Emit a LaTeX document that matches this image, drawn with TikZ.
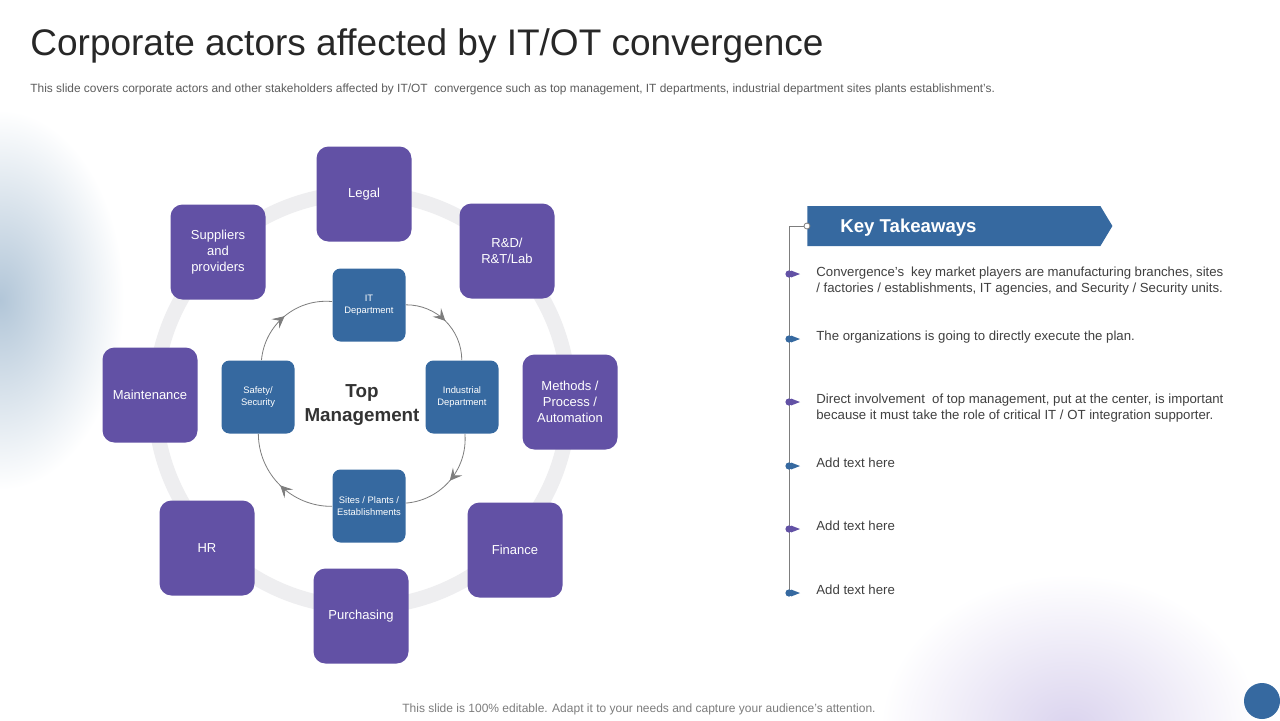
\documentclass[tikz,border=0pt]{standalone}
\usepackage{fontspec}
\setmainfont{Liberation Sans}
\usetikzlibrary{positioning,arrows.meta,decorations.markings,shapes.symbols}

\definecolor{actorpurple}{RGB}{98,81,165}
\definecolor{deptblue}{RGB}{54,105,160}
\definecolor{ringgray}{RGB}{238,238,240}
\definecolor{textgray}{RGB}{64,64,64}
\definecolor{linegray}{RGB}{125,125,125}
\definecolor{glowblue}{RGB}{178,198,216}
\definecolor{glowlilac}{RGB}{218,211,238}

\begin{document}
\begin{tikzpicture}[x=0.5pt,y=-0.5pt,
    actor/.style={fill=actorpurple,rounded corners=6pt,minimum size=47.5pt,inner sep=1pt,
      align=center,text=white,font=\fontsize{6.5}{8}\selectfont},
    dept/.style={fill=deptblue,rounded corners=4pt,minimum size=36.5pt,inner sep=1pt,
      align=center,text=white,font=\fontsize{4.7}{6}\selectfont},
    topmgmt/.style={align=center,text=textgray!80!black,font=\fontsize{9.4}{12}\selectfont\bfseries},
    cyc/.style={draw=linegray,line width=0.4pt,postaction={decorate},
      decoration={markings,mark=at position 0.5 with {\arrow[linegray]{Stealth[length=6pt,width=6pt,inset=2.5pt]}}}},
    banner/.style={signal,signal to=east,signal pointer angle=118,fill=deptblue,
      minimum width=152.5pt,minimum height=20pt,inner sep=0pt},
    take/.style={anchor=north west,inner sep=0pt,text width=203.5pt,align=justify,
      text=textgray,font=\fontsize{6.6}{8}\selectfont}]
  \useasboundingbox (0,0) rectangle (1280,720);
  \fill[white] (0,0) rectangle (1280,720);
  % soft background glows
  \shade[inner color=glowblue,outer color=white] (0,300) ellipse (62pt and 95pt);
  \shade[inner color=glowlilac,outer color=white] (1070,730) ellipse (95pt and 78pt);
  \fill[deptblue] (1262,701) circle (9pt);

  % titles
  \node[anchor=base west,inner sep=0pt,text=textgray!60!black,font=\fontsize{18.5}{22}\selectfont] (title) at (30,55)
    {Corporate actors affected by IT/OT convergence};
  \node[anchor=base west,inner sep=0pt,text=textgray!85,font=\fontsize{5.95}{7}\selectfont] (subtitle) at (30,92)
    {This slide covers corporate actors and other stakeholders affected by IT/OT\ \ convergence such as top management, IT departments, industrial department sites plants establishment's.};
  \node[anchor=base,inner sep=0pt,text=linegray,font=\fontsize{6}{7}\selectfont] (footer) at (639,712)
    {This slide is 100\% editable. Adapt it to your needs and capture your audience's attention.};

  % outer ring of actors
  \draw[ringgray,line width=7.5pt] (362,400) circle (103.5pt);
  \node[actor] (legal) at (364,194) {Legal};
  \node[actor] (rnd) at (507,251) {R\&D/\\R\&T/Lab};
  \node[actor] (methods) at (570,402) {Methods /\\Process /\\Automation};
  \node[actor] (finance) at (515,550) {Finance};
  \node[actor] (purchasing) at (361,616) {Purchasing};
  \node[actor] (hr) at (207,548) {HR};
  \node[actor] (maint) at (150,395) {Maintenance};
  \node[actor] (suppliers) at (218,252) {Suppliers\\and\\providers};

  % inner cycle
  \node[topmgmt] (top) at (362,405) {Top\\Management};
  \node[dept] (itdep) at (369,305) {IT\\Department};
  \node[dept] (inddep) at (462,397) {Industrial\\Department};
  \node[dept] (sites) at (369,506) {Sites / Plants /\\Establishments};
  \node[dept] (safety) at (258,397) {Safety/\\Security};
  \draw[cyc] (itdep) to[bend left=45] (inddep);
  \draw[cyc] (inddep) to[bend left=45] (sites);
  \draw[cyc] (sites) to[bend left=45] (safety);
  \draw[cyc] (safety) to[bend left=45] (itdep);

  % key takeaways
  \node[banner,anchor=west] (keyhead) at (807,226) {};
  \node[anchor=west,inner sep=0pt,text=white,font=\fontsize{9.3}{11}\selectfont\bfseries,
    right=16.5pt of keyhead.west,yshift=-0.8pt] (keytext) {Key Takeaways};
  \node[circle,draw=linegray,fill=white,inner sep=0pt,minimum size=3pt] (hook) at (807,226) {};
  \coordinate (tltop) at (789,226);
  \coordinate (tlbot) at (789,593);
  \draw[linegray,line width=0.5pt] (hook) -- (tltop) -- (tlbot);
  \foreach \y/\c in {274/actorpurple,339/deptblue,402/actorpurple,466/deptblue,529/actorpurple,593/deptblue}{
    \fill[\c] (789,\y) circle (1.8pt);
    \fill[\c] (791,\y-3.5) -- (800,\y) -- (791,\y+3.5) -- cycle;
  }
  \node[take] (take1) at (816,267) {Convergence's\ \ key market players are manufacturing branches, sites\linebreak / factories / establishments, IT agencies, and Security / Security units.};
  \node[take] (take2) at (816,331) {The organizations is going to directly execute the plan.};
  \node[take] (take3) at (816,394) {Direct involvement\ \ of top management, put at the center, is important\linebreak because it must take the role of critical IT / OT integration supporter.};
  \node[take] (take4) at (816,458) {Add text here};
  \node[take] (take5) at (816,521) {Add text here};
  \node[take] (take6) at (816,585) {Add text here};
\end{tikzpicture}
\end{document}
